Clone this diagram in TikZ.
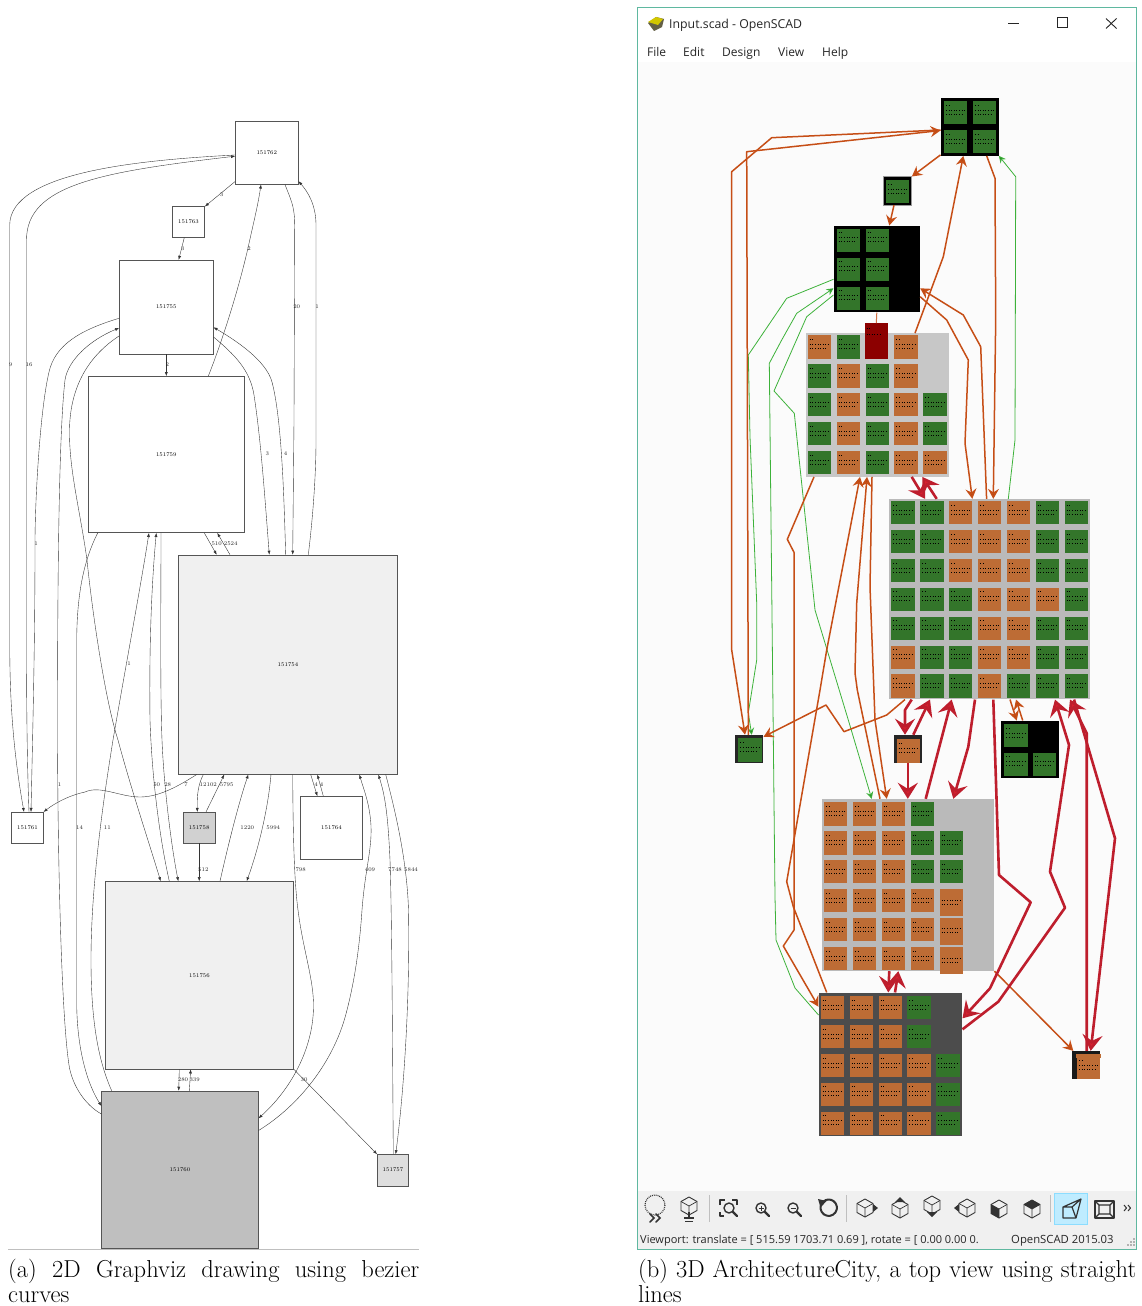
\documentclass[tikz,border=0pt]{standalone}
\usepackage{fontspec}
\usetikzlibrary{arrows.meta,calc}
\newfontfamily\uifont{Open Sans}
\definecolor{gline}{HTML}{333333}
\definecolor{gboxline}{HTML}{555555}
\definecolor{tgreen}{HTML}{33752A}
\definecolor{torange}{HTML}{BD6C35}
\definecolor{ecorange}{HTML}{C64E16}
\definecolor{ecgreen}{HTML}{3DB23A}
\definecolor{ecred}{HTML}{BE1E2D}
\definecolor{hdred}{HTML}{D8202F}
\definecolor{winteal}{HTML}{5FB8A0}
\definecolor{ico}{HTML}{333333}
\tikzset{
  gbox/.style={draw=gboxline,line width=.5pt,inner sep=0pt,font=\fontsize{5.6}{6}\selectfont,text=black},
  ge/.style={draw=gline,line width=.38pt,-{Latex[length=4pt,width=3pt]}},
  elab/.style={inner sep=0pt,font=\fontsize{5.6}{6}\selectfont,text=black!85},
  bld/.style={inner sep=0pt,draw=none},
  oe/.style={draw=ecorange,line width=1.5pt,line join=round,-{Stealth[length=10pt,width=11pt,inset=3.5pt,fill=ecorange!90!black]}},
  oline/.style={draw=ecorange!80!white,line width=1pt},
  ge3/.style={draw=ecgreen,line width=.8pt,line join=round,-{Stealth[length=7pt,width=7pt,inset=2.5pt,fill=ecgreen!70!black]}},
  re/.style={draw=ecred,line width=2.6pt,line join=round,-{Stealth[length=16pt,width=20pt,inset=6pt,fill=hdred]}},
  tileG/.style={fill=tgreen},
  tileO/.style={fill=torange},
  tileN/.style={fill=none,draw=none},
  tiledots/.style={draw=black,line width=.55pt,dash pattern=on .8pt off 1.8pt},
  uit/.style={inner sep=0pt,anchor=base west,text=black!85},
  ic/.style={draw=ico,line width=.9pt,line join=round},
  icb/.style={draw=ico,line width=1.6pt,line cap=round},
  captxt/.style={inner sep=0pt,anchor=north west,align=justify,font=\fontsize{24.5}{25}\selectfont,text=black},
}
\def\tmpN{N}
\newcommand\tile[3]{%
  \edef\tmpc{#3}%
  \ifx\tmpc\tmpN\else
    \path[tile#3] (#1,#2) rectangle ++(23.3,23.3);
    \draw[tiledots] (#1+2,#2+9) -- ++(19,0);
    \draw[tiledots] (#1+2,#2+13) -- ++(16,0);
    \draw[tiledots] (#1+2,#2+4) -- ++(3,0);
  \fi}
\newcommand\citygrid[3]{%
  \foreach \rowlist [count=\r from 0] in {#3}{%
    \foreach \c [count=\q from 0] in \rowlist{%
      \tile{#1+\q*28.9}{#2+\r*28.9}{\c}%
    }%
  }}
\newcommand\hexcube[2]{%
  \draw[ic] (#1,#2-9) -- (#1+8,#2-4.5) -- (#1+8,#2+4.5) -- (#1,#2+9) -- (#1-8,#2+4.5) -- (#1-8,#2-4.5) -- cycle;
  \draw[ic,line width=.7pt] (#1-8,#2-4.5) -- (#1,#2) -- (#1+8,#2-4.5) (#1,#2) -- (#1,#2+9);}
\newcommand\magnif[2]{%
  \draw[ic,line width=1.4pt] (#1,#2) circle (5);
  \draw[icb,line width=2.2pt] (#1+3.8,#2+3.8) -- (#1+8,#2+8);}
\begin{document}
\begin{tikzpicture}[x=1pt,y=-1pt]
\useasboundingbox (0,0) rectangle (1142,1306);
\fill[white] (0,0) rectangle (1142,1306);

% ---------- (a) Graphviz drawing ----------
\node[gbox,minimum width=63,minimum height=63] (n62) at (266.8,152.8) {151762};
\node[gbox,minimum width=32.3,minimum height=30.6] (n63) at (188.5,222) {151763};
\node[gbox,minimum width=94,minimum height=94] (n55) at (166.3,307) {151755};
\node[gbox,minimum width=156.7,minimum height=156.4] (n59) at (166.3,454.5) {151759};
\node[gbox,fill=black!6,minimum width=219.4,minimum height=219.3] (n54) at (288,664.6) {151754};
\node[gbox,minimum width=31.6,minimum height=31] (n61) at (27.5,827.7) {151761};
\node[gbox,fill=black!18,minimum width=31.7,minimum height=31] (n58) at (199.2,827.7) {151758};
\node[gbox,minimum width=62.4,minimum height=62.8] (n64) at (331.5,827.7) {151764};
\node[gbox,fill=black!6,minimum width=188.4,minimum height=187.7] (n56) at (199.5,975.3) {151756};
\node[gbox,fill=black!25,minimum width=156.6,minimum height=157] (n60) at (180,1169.5) {151760};
\node[gbox,fill=black!13,minimum width=31.4,minimum height=31.4] (n57) at (393,1170.1) {151757};

\draw[ge] ([yshift=3]n62.south west) -- (n63.north east);
\draw[ge] ([xshift=-4.2]n63.south) -- ([xshift=12.4]n55.north);
\draw[ge] (n55.south) -- (n59.north);
\draw[ge] ([xshift=42]n59.north) .. controls (218,352) and (236,300) .. (248,248) .. controls (253,225) and (258,205) .. ([xshift=-5.8]n62.south);
\draw[ge] ([xshift=18.2]n62.south) .. controls (290,198) and (294.7,205) .. (294.7,225) -- (294,420) -- ([xshift=4.7]n54.north);
\draw[ge] ([xshift=20.3]n54.north) .. controls (312,525) and (316,480) .. (316,440) -- (316,225) .. controls (316,205) and (308,192) .. ([yshift=3.3]n62.south east);
\draw[ge] ([yshift=-30]n55.east) .. controls (235,355) and (250,370) .. (254,395) .. controls (261,440) and (265,500) .. ([xshift=-18.7]n54.north);
\draw[ge] ([xshift=-2.3]n54.north) .. controls (284,500) and (282,420) .. (272,382) .. controls (266,360) and (235,340) .. ([yshift=-20.3]n55.east);
\draw[ge] ([xshift=38]n59.south) -- ([xshift=-71.3]n54.north);
\draw[ge] ([xshift=-58]n54.north) -- ([xshift=51]n59.south);
\draw[ge] ([yshift=-2.2]n62.west) .. controls (140,160) and (10,172) .. (9.7,225) -- (9.7,640) .. controls (9.7,700) and (13,750) .. ([xshift=-3.5]n61.north);
\draw[ge] ([xshift=1.5]n61.north) .. controls (27,760) and (26.5,700) .. (26.5,640) -- (26.5,240) .. controls (26.5,185) and (100,172) .. ([yshift=-3.4]n62.west);
\draw[ge] ([yshift=-11.3]n55.west) .. controls (80,330) and (55,345) .. (49,372) .. controls (40,410) and (35,500) .. (35,543) .. controls (35,640) and (33,720) .. ([xshift=3.5]n61.north);
\draw[ge] ([yshift=55.5]n60.west) .. controls (85,1105) and (72,1085) .. (69,1065) .. controls (62,1020) and (58,880) .. (57.5,740) .. controls (57.5,620) and (58,440) .. (65,380) .. controls (68,360) and (90,340) .. ([yshift=-21]n55.west);
\draw[ge] ([xshift=-68.6]n59.south) .. controls (85,558) and (77,590) .. (76.7,640) -- (76.7,1000) .. controls (76.5,1050) and (88,1085) .. ([yshift=63.5]n60.west);
\draw[ge] ([yshift=-29]n55.west) .. controls (90,355) and (70,385) .. (69.5,430) .. controls (69,470) and (80,510) .. (87,560) .. controls (92,610) and (105,700) .. (118,740) .. controls (130,785) and (145,830) .. ([xshift=-38.8]n56.north);
\draw[ge] ([xshift=-68.3]n60.north) .. controls (98,1060) and (91,1020) .. (91,960) .. controls (91,880) and (105,790) .. (113,740) .. controls (125,670) and (140,590) .. ([xshift=-17.3]n59.south);
\draw[ge] ([xshift=-30.2]n56.north) .. controls (160,840) and (152,780) .. (150,720) .. controls (149,640) and (152,580) .. ([xshift=-10]n59.south);
\draw[ge] ([xshift=-5.3]n59.south) .. controls (161,590) and (160,690) .. (162,740) .. controls (164,790) and (172,850) .. ([xshift=-21.2]n56.north);
\draw[ge] ([xshift=-91.3]n54.south) .. controls (180,785) and (160,797) .. (140,797) .. controls (120,797) and (100,785) .. (85,792) .. controls (70,795) and (55,803) .. (n61.north east);
\draw[ge] ([xshift=-84.7]n54.south) .. controls (198,785) and (197,795) .. ([xshift=-1.9]n58.north);
\draw[ge] ([xshift=6.8]n58.north) -- ([xshift=-63.7]n54.south);
\draw[ge] (n58.south) -- ([xshift=-.3]n56.north);
\draw[ge] ([xshift=20.5]n56.north) .. controls (227,850) and (238,805) .. ([xshift=-39.7]n54.south);
\draw[ge] ([xshift=-17]n54.south) .. controls (268,810) and (258,850) .. ([xshift=47.2]n56.north);
\draw[ge] ([xshift=22.7]n54.south) -- ([xshift=-14.2]n64.north);
\draw[ge] ([xshift=-8.2]n64.north) -- ([xshift=29.3]n54.south);
\draw[ge] ([xshift=4.7]n54.south) .. controls (293,830) and (294,880) .. (298,910) .. controls (303,950) and (314,980) .. (313.5,1007) .. controls (313,1050) and (290,1090) .. ([yshift=51.2]n60.east);
\draw[ge] ([yshift=39]n60.east) .. controls (300,1105) and (335,1060) .. (347,1010) .. controls (356,975) and (360,940) .. (362,910) .. controls (365,870) and (372,850) .. (371,826) .. controls (370,805) and (364,790) .. ([xshift=71.3]n54.south);
\draw[ge] ([xshift=.3]n57.north) .. controls (392.5,1050) and (392,920) .. (390,860) .. controls (388,815) and (385,795) .. ([xshift=90.3]n54.south);
\draw[ge] ([xshift=97.7]n54.south) .. controls (395,810) and (407,860) .. (408.5,910) .. controls (410,1000) and (404,1090) .. ([xshift=2.7]n57.north);
\draw[ge] (n56.south east) -- (n57.north west);
\draw[ge] ([xshift=-20.2]n56.south) -- ([xshift=-1.3]n60.north);
\draw[ge] ([xshift=9.3]n60.north) -- ([xshift=-8.8]n56.south);

\foreach \x/\y/\t [count=\i] in {221.7/195/3,182.7/248.3/3,167.3/365/2,249/249/2,296.7/306.7/20,317/306.7/1,267.3/454/3,285.7/454/4,216.7/543.3/510,230.7/543.3/2524,10.7/365/9,29/365/16,36/543.3/1,59.7/785/1,79.5/827.4/14,107.3/827.4/11,129/664/1,156.7/785/50,167.7/785/28,186/785/7,208.3/785/12102,226.7/785/5795,203.3/870/512,247.3/827.4/1220,273.3/827.4/5994,316/785/4,321.7/785/4,300.7/870/798,370/870/409,395/870/7748,411/870/5844,304/1080/30,183/1080/280,194.7/1080/339}
  {\node[elab] (lab\i) at (\x,\y) {\t};}

\draw[black!25,line width=.7pt] (8,1249.5) -- (419,1249.5);
\node[captxt,text width=411pt] (capa) at (8,1259) {(a) 2D Graphviz drawing using bezier curves};

% ---------- (b) OpenSCAD window ----------
\fill[white] (637.5,7.5) rectangle (1136.5,62);
\fill[black!1.5] (637.5,62) rectangle (1136.5,1191);
\fill[black!6] (637.5,1191) rectangle (1136.5,1249);
\draw[winteal,line width=.9pt] (637.5,7.5) rectangle (1136.5,1249);

% title bar
\fill[black!70!yellow] (648,23) -- (656,17) -- (664,19) -- (662,27) -- (654,31) -- cycle;
\fill[yellow!60!olive] (648,22) -- (656,17) -- (663,19) -- (658,25) -- cycle;
\node[uit,font=\uifont\fontsize{12.3}{14}\selectfont] (wtitle) at (669,28.5) {Input.scad - OpenSCAD};
\draw[black!85,line width=.9pt] (1008.3,23.3) -- (1019,23.3);
\draw[black!85,line width=1pt] (1057,18) rectangle (1067.5,28);
\draw[black!85,line width=.9pt] (1106,18.5) -- (1116.5,28.5) (1106,28.5) -- (1116.5,18.5);
\foreach \x/\t [count=\i] in {647/File,683/Edit,722/Design,778/View,822/Help}
  {\node[uit,font=\uifont\fontsize{12}{14}\selectfont] (menu\i) at (\x,56.5) {\t};}

% buildings
\node[bld,fill=black,minimum width=58,minimum height=57.4] (R1) at (969.7,127) {};
\node[bld,fill=black,draw=black!40,line width=.4pt,minimum width=28.7,minimum height=28.3] (R2) at (897.3,190.8) {};
\node[bld,fill=black,minimum width=86.3,minimum height=86.6] (R3) at (876.8,269) {};
\node[bld,fill=black!22,minimum width=143.6,minimum height=143.4] (R4) at (877.5,405) {};
\node[bld,fill=black!27,minimum width=200.7,minimum height=200.3] (R5) at (989.6,599.2) {};
\node[bld,fill=black!85,minimum width=28.3,minimum height=27.7] (R6) at (749.2,748.8) {};
\node[bld,fill=black!85,minimum width=28.3,minimum height=27.7] (R7) at (907.8,748.8) {};
\node[bld,fill=black,minimum width=57.4,minimum height=57.6] (R8) at (1030,749.5) {};
\node[bld,fill=black!27,minimum width=172.6,minimum height=172] (R9) at (908,885) {};
\node[bld,fill=black!70,minimum width=143.6,minimum height=143.3] (R10) at (890.5,1064.3) {};
\node[bld,fill=black!90,minimum width=28.3,minimum height=28.3] (R11) at (1085.8,1065.2) {};

\citygrid{944}{101}{{G,G},{G,G}}
\tile{886}{180}{G}
\citygrid{836.7}{228.7}{{G,G},{G,G},{G,G}}
\citygrid{807.7}{335.3}{{O,G,N,O,N},{G,O,G,O,N},{G,O,G,O,G},{G,O,G,O,G},{G,O,G,O,O}}
\citygrid{891.3}{501}{{G,G,O,O,O,G,G},{G,G,O,O,O,G,G},{G,G,O,O,O,G,G},{G,G,G,O,O,O,G},{G,G,G,O,O,G,G},{O,G,G,O,O,G,G},{O,G,G,O,G,G,G}}
\tile{738.3}{738.3}{G}
\tile{896.7}{739.4}{O}
\tile{1004.3}{724}{G}
\tile{1004.3}{752.7}{G}
\tile{1032.8}{752.7}{G}
\citygrid{824}{802.3}{{O,O,O,G,N},{O,O,O,G,G},{O,O,O,G,G},{O,O,O,O,N},{O,O,O,O,N},{O,O,O,O,N}}
\fill[torange] (939.7,889.3) rectangle (963,916);
\fill[torange] (939.7,917.5) rectangle (963,945);
\fill[torange] (939.7,946.5) rectangle (963,974.3);
\foreach \y in {900,928,958}{\draw[tiledots] (941.7,\y) -- ++(19,0); \draw[tiledots] (941.7,\y+4) -- ++(16,0);}
\citygrid{820.7}{996}{{O,O,O,G,N},{O,O,O,G,N},{O,O,O,O,G},{O,O,O,O,G},{O,O,O,O,G}}
\tile{1077}{1056}{O}
\fill[torange] (1076,1054) rectangle (1100.7,1058);
\node[bld,fill=red!55!black,minimum width=23.3,minimum height=36] (Rr) at (876.3,341.3) {};
\draw[tiledots] (866.5,328) -- ++(5,0) (866.5,334) -- ++(15,0);

% green connectors
\draw[ge3] ([yshift=-10.3]R3.west) -- (786.7,298.3) -- (748.3,355) -- (750,436.7) -- (756.7,603) -- (756.7,660) -- (748.3,713) -- ([xshift=2.5]R6.north);
\draw[ge3] ([yshift=49.3]R10.west) -- (795,988) -- (776,940) -- (775,896.7) -- (771.7,586.7) -- (769.3,363.3) -- (781.7,340) -- (796.7,313.3) -- ([yshift=-19.3]R3.west);
\draw[ge3] ([yshift=-26]R3.west) -- (806.7,316.7) -- (774,391) -- (794.3,413.3) -- (815,610) -- (848.3,720) -- ([xshift=-36.3]R9.north);
\draw[ge3] ([xshift=18.7]R5.north) -- (1015,440) -- (1015.7,176.7) -- (R1.south east);
% orange connectors
\draw[oe] ([yshift=-3]R1.west) -- (771.7,137.7) -- (731.7,171.7) -- (731.7,650) -- ([xshift=-4.2]R6.north);
\draw[oe] ([xshift=-.9]R6.north) -- (746.7,151.7) -- ([yshift=-3.5]R1.west);
\draw[oe] ([yshift=1]R1.south west) -- (R2.north east);
\draw[oe] ([xshift=-3.3]R2.south) -- ([xshift=12.5]R3.north);
\draw[oe] ([xshift=37.5]R4.north) -- (943.3,256.7) -- ([xshift=-6.4]R1.south);
\draw[oe] ([xshift=17]R1.south) -- (995,178.3) -- (995.7,320) -- ([xshift=3.7]R5.north);
\draw[oe] ([xshift=-3]R5.north) -- (980.7,346.7) -- (963.3,315) -- ([yshift=-19.3]R3.east);
\draw[oe] ([yshift=-27.7]R3.east) -- (946.7,320) -- (968.3,360) -- (965,443.3) -- ([xshift=-17.3]R5.north);
\draw[oline] (Rr.north) -- (R3.south);
\draw[oe] ([xshift=-63.8]R10.north) -- (793.3,906.7) -- (786.7,881.7) -- (820,690) -- (826.7,650) -- ([xshift=-17.5]R4.south);
\draw[oe] ([xshift=-28]R9.north) -- (857.3,690) -- (855,673) -- (856.7,603) -- ([xshift=-10.5]R4.south);
\draw[oe] ([xshift=-5.5]R4.south) -- (870,586.7) -- (875,720) -- ([xshift=-21.3]R9.north);
\draw[oe] ([xshift=-63.5]R4.south) -- (787.3,539.3) -- (794,552.3) -- (794,930) -- (783.3,946) -- ([yshift=57.6]R10.west);
\draw[oe] ([xshift=-84.6]R5.south) -- (886.7,715) -- (844,731.7) -- (826,705) -- ([yshift=-2]R6.north east);
\draw[oe] (R9.south east) -- ([xshift=-12.5]R11.north);
\draw[oe] ([xshift=20.4]R5.south) -- ([xshift=-13.3]R8.north);
\draw[oe] ([xshift=-7.3]R8.north) -- ([xshift=26.4]R5.south);
% red connectors
\draw[re] ([xshift=34.2]R4.south) -- ([xshift=-64.6]R5.north);
\draw[re] ([xshift=-52.9]R5.north) -- ([xshift=44.8]R4.south);
\draw[re] ([xshift=-77.9]R5.south) -- (905,710) -- ([xshift=-2.8]R7.north);
\draw[re] ([xshift=5.5]R7.north) -- ([xshift=-59.6]R5.south);
\draw[re] (R7.south) -- ([xshift=-.2]R9.north);
\draw[re] ([xshift=17.7]R9.north) -- ([xshift=-37.9]R5.south);
\draw[re] ([xshift=-14.6]R5.south) -- (968.3,746.7) -- ([xshift=45.3]R9.north);
\draw[re] ([xshift=-18.7]R9.south) -- ([xshift=-2.2]R10.north);
\draw[re] ([xshift=4.5]R10.north) -- ([xshift=-9.7]R9.south);
\draw[re] ([xshift=3.7]R5.south) -- (999,875) -- (1030.7,902.3) -- (990,988.3) -- ([yshift=46]R10.east);
\draw[re] ([yshift=35]R10.east) -- (998.3,1001.7) -- (1065,907.7) -- (1050,871.7) -- (1069,745) -- ([xshift=65.4]R5.south);
\draw[re] ([xshift=.9]R11.north) -- (1086.7,733.3) -- ([xshift=80.4]R5.south);
\draw[re] ([xshift=84.4]R5.south) -- (1115,838.3) -- ([xshift=4.9]R11.north);

% toolbar
\draw[black!25,line width=.7pt] (709.3,1195) -- (709.3,1222) (846.7,1195) -- (846.7,1222) (1050,1195) -- (1050,1222);
\fill[blue!30!cyan!25!white,draw=blue!30!cyan!45!white,line width=.8pt] (1054.3,1193) rectangle (1087.7,1224);
% preview icon
\draw[ic,densely dotted,line width=1.2pt] (655,1205) circle (10);
\draw[icb] (650,1214) -- (654,1218) -- (650,1222) (656,1214) -- (660,1218) -- (656,1222);
% render icon
\hexcube{689}{1206}
\draw[ic,line width=1.3pt] (689,1212) -- (689,1219) (684,1218) -- (694,1218) (685,1221.5) -- (693,1221.5);
% view-all
\draw[ic,line width=1.6pt] (720,1205) -- (720,1200) -- (725,1200) (732,1200) -- (737,1200) -- (737,1205) (720,1212) -- (720,1216) -- (724,1216);
\magnif{729}{1208}
% zoom in / out
\magnif{761}{1208}
\draw[ic,line width=1pt] (758.5,1208) -- (763.5,1208) (761,1205.5) -- (761,1210.5);
\magnif{793}{1208}
\draw[ic,line width=1pt] (790.5,1208) -- (795.5,1208);
% reset
\draw[ic,line width=2pt] (822,1203) arc (215:-130:8.2);
\fill[ico] (818,1199) -- (826.5,1201) -- (820.5,1207.5) -- cycle;
% view cubes
\hexcube{865}{1208}
\fill[ico] (873,1204) -- (878,1208) -- (873,1212) -- cycle;
\hexcube{900}{1209}
\fill[ico] (895,1202) -- (900,1197) -- (905,1202) -- cycle;
\hexcube{932}{1205}
\fill[ico] (927,1212) -- (932,1217) -- (937,1212) -- cycle;
\hexcube{967}{1208}
\fill[ico] (959,1204) -- (954,1208) -- (959,1212) -- cycle;
\hexcube{999}{1209}
\fill[ico] (991,1204.5) -- (999,1209) -- (999,1218) -- (991,1213.5) -- cycle;
\hexcube{1032}{1209}
\fill[ico] (1032,1209) -- (1040,1204.5) -- (1032,1200) -- (1024,1204.5) -- cycle;
% perspective / ortho
\draw[ic,line width=1.2pt] (1063,1207) -- (1081,1199) -- (1076,1218) -- (1063,1218) -- cycle (1063,1207) -- (1072,1207) -- (1076,1218) (1072,1207) -- (1081,1199);
\draw[ic,line width=1.4pt] (1095,1201) rectangle (1114,1218);
\draw[ic,line width=1.2pt] (1099,1205) rectangle (1110,1214) (1095,1201) -- (1099,1205) (1114,1201) -- (1110,1205) (1095,1218) -- (1099,1214) (1114,1218) -- (1110,1214);
\draw[ic,line width=1pt] (1124,1205) -- (1126.5,1208) -- (1124,1211) (1128,1205) -- (1130.5,1208) -- (1128,1211);
% status bar
\node[uit,font=\uifont\fontsize{11}{12}\selectfont] (status) at (640,1243.5) {Viewport: translate = [ 515.59 1703.71 0.69 ], rotate = [ 0.00 0.00 0.};
\fill[black!6] (1007,1232) rectangle (1011,1247);
\node[uit,font=\uifont\fontsize{11.3}{12}\selectfont] (version) at (1011,1243.5) {OpenSCAD 2015.03};
\foreach \x/\y in {1130/1244,1127/1244,1130/1241,1133/1244,1133/1241,1133/1238}{\fill[black!30] (\x,\y) rectangle ++(1.5,1.5);}

\node[captxt,text width=498pt] (capb) at (638,1259) {(b) 3D ArchitectureCity, a top view using straight lines};
\end{tikzpicture}
\end{document}
